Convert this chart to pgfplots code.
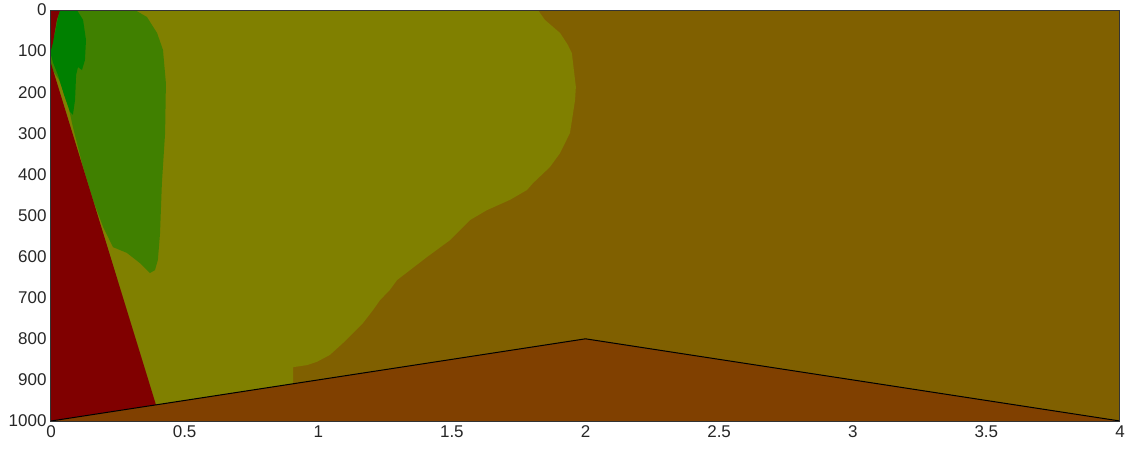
\documentclass[border=0pt]{standalone}
\usepackage{pgfplots}
\pgfplotsset{compat=1.18}
\usepackage{fontspec}
\setmainfont{Liberation Sans}

\definecolor{cRed}{RGB}{128,0,0}
\definecolor{cBrown}{RGB}{128,64,0}
\definecolor{cAmber}{RGB}{128,96,0}
\definecolor{cOlive}{RGB}{128,128,0}
\definecolor{cLeaf}{RGB}{64,128,0}
\definecolor{cGreen}{RGB}{0,128,0}

\begin{document}
\begin{tikzpicture}
\path[use as bounding box] (-51pt,-29pt) rectangle (1091pt,421pt);
\begin{axis}[
  at={(0,0)}, anchor=south west,
  scale only axis,
  width=1069pt, height=411pt,
  xmin=0, xmax=4, ymin=0, ymax=1000,
  y dir=reverse,
  xtick={0,0.5,...,4},
  ytick={0,100,...,1000},
  major tick length=0pt,
  axis on top,
  axis line style={line width=1pt, black!80},
  axis background/.style={fill=cAmber},
  /pgf/number format/assume math mode=true,
  /pgf/number format/1000 sep={},
  ticklabel style={font=\fontsize{17}{20}\selectfont, text=black!85},
  xticklabel style={yshift=-1pt},
  yticklabel style={xshift=-1pt},
]
% olive zone
\addplot[fill=cOlive, draw=none] coordinates {
  (0,0) (1.822,0) (1.848,24) (1.905,56) (1.934,85) (1.949,105)
  (1.964,187) (1.961,219) (1.942,299) (1.905,348) (1.867,382)
  (1.804,421) (1.781,438) (1.717,462) (1.631,487) (1.568,511)
  (1.493,560) (1.407,601) (1.343,633) (1.295,657) (1.268,681)
  (1.231,706) (1.205,730) (1.167,762) (1.130,786) (1.093,810)
  (1.044,839) (0.995,856) (0.958,864) (0.906,869)
  (0.906,912) (0,1000)
} -- cycle;
% leaf-green zone
\addplot[fill=cLeaf, draw=none] coordinates {
  (0,0) (0.314,0) (0.359,17) (0.397,56) (0.419,97) (0.430,178)
  (0.427,299) (0.415,421) (0.408,543) (0.400,608) (0.389,633)
  (0.370,640) (0.333,616) (0.284,591) (0.232,577) (0.195,528)
  (0.157,462) (0.120,382) (0.082,285) (0.060,219) (0.030,170) (0,140)
} -- cycle;
% green core
\addplot[fill=cGreen, draw=none] coordinates {
  (0.034,0) (0.097,0) (0.120,24) (0.131,73) (0.127,122) (0.116,146)
  (0.101,139) (0.094,158) (0.090,219) (0.082,255) (0.071,248)
  (0.049,207) (0.026,158) (0.007,127) (0,109) (0,85) (0.015,56)
  (0.026,19)
} -- cycle;
% red zones
\addplot[fill=cRed, draw=none] coordinates {
  (0,0) (0.034,0) (0.022,24) (0.007,80) (0,97)
} -- cycle;
\addplot[fill=cRed, draw=none] coordinates {
  (0,130) (0.393,961) (0,1000)
} -- cycle;
% bottom wedge
\addplot[fill=cBrown, draw=none] coordinates {
  (0,1000) (2,800) (4,1000)
} -- cycle;
\addplot[black, line width=1pt] coordinates {
  (0,1000) (2,800) (4,1000)
};
\end{axis}
\end{tikzpicture}
\end{document}
